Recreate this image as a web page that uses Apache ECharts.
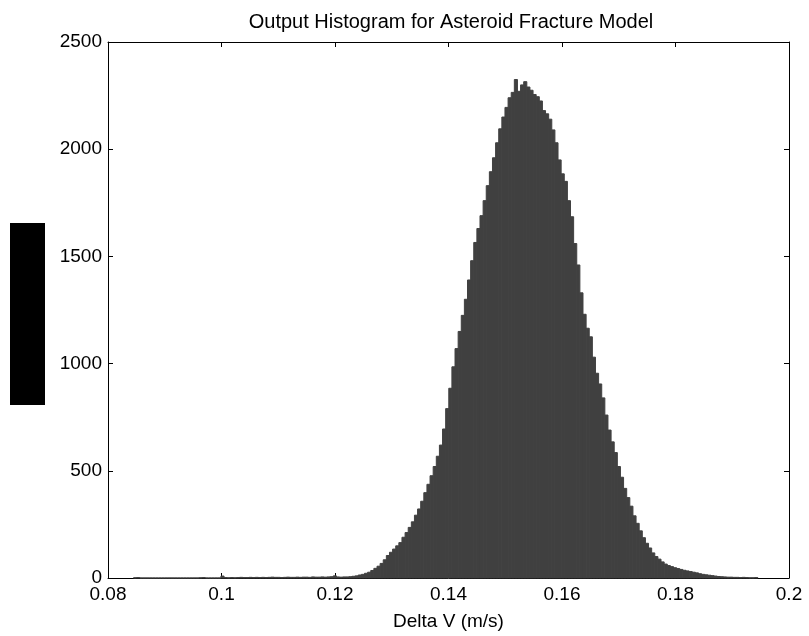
<!DOCTYPE html>
<html><head><meta charset="utf-8">
<script src="https://cdn.jsdelivr.net/npm/echarts@6/dist/echarts.min.js"></script>
<style>html,body{margin:0;padding:0;background:#fff}#c{width:809px;height:636px}</style>
</head><body><div id="c"></div>
<script>
// Histogram bins: bin i covers [binStart + i*binWidth, binStart + (i+1)*binWidth]
const binStart = 0.0845;
const binWidth = 0.00055;
const counts = [
  1,2,0,0,0,0,0,0,0,0,
  0,0,0,0,0,0,0,0,0,0,
  0,1,2,0,0,0,0,0,9,2,
  1,2,1,2,3,2,2,3,2,3,
  2,3,2,3,4,3,3,2,3,4,
  3,3,4,3,4,4,3,5,4,4,
  5,4,5,6,10,5,
  4,5,5,6,8,10,14,17,22,27,
  35,45,55,68,85,105,120,135,150,165,
  190,212,236,262,293,322,358,398,437,477,
  520,568,620,695,790,885,985,1070,1150,1225,
  1300,1390,1480,1565,1630,1690,1760,1830,1895,1960,
  2030,2095,2150,2195,2240,2265,2325,2270,2300,2315,
  2290,2275,2255,2245,2225,2180,2165,2140,2090,2030,
  1950,1885,1850,1760,1685,1560,1460,1330,1230,1165,
  1125,1030,955,905,840,760,690,635,585,520,
  470,418,375,335,290,255,220,188,162,140,
  117,100,88,75,65,58,53,48,44,40,
  36,33,30,27,24,20,17,15,13,11,
  9,7,6,5,4,4,3,3,2,3,
  2,1,1,2
];
const xTickLabels = ['0.08','0.1','0.12','0.14','0.16','0.18','0.2'];
const yTickLabels = ['0','500','1000','1500','2000','2500'];
const titleText = 'Output Histogram for Asteroid Fracture Model';
const xAxisName = 'Delta V (m/s)';

const data = counts.map((c, i) => [binStart + i * binWidth, binStart + (i + 1) * binWidth, c]);
const FONT = '"Liberation Sans", Arial, sans-serif';
const FS = 19;

const chart = echarts.init(document.getElementById('c'), null, {renderer: 'canvas'});
const axisLine = {show: true, onZero: false, lineStyle: {color: '#000', width: 1}};
const tick = {show: true, inside: true, length: 5, lineStyle: {color: '#000'}};
chart.setOption({
  animation: false,
  backgroundColor: '#fff',
  title: {
    text: titleText, left: 446, top: 7, textAlign: 'center',
    textStyle: {fontFamily: FONT, fontSize: 20, fontWeight: 'normal', color: '#000'}
  },
  grid: {left: 108, right: 20, top: 42, bottom: 58, containLabel: false},
  xAxis: [{
    type: 'value', min: 0.08, max: 0.2, interval: 0.02, position: 'bottom',
    axisLine, axisTick: tick, splitLine: {show: false},
    axisLabel: {margin: 7, fontFamily: FONT, fontSize: FS, color: '#000',
      formatter: v => { const s = xTickLabels.find(t => Math.abs(parseFloat(t) - v) < 1e-9); return s || ''; }},
    name: xAxisName, nameLocation: 'middle', nameGap: 34,
    nameTextStyle: {fontFamily: FONT, fontSize: FS, color: '#000'}
  }, {
    type: 'value', min: 0.08, max: 0.2, interval: 0.02, position: 'top',
    axisLine, axisTick: tick, axisLabel: {show: false}, splitLine: {show: false}
  }],
  yAxis: [{
    type: 'value', min: 0, max: 2500, interval: 500, position: 'left',
    axisLine, axisTick: tick, splitLine: {show: false},
    axisLabel: {margin: 6, fontFamily: FONT, fontSize: FS, color: '#000',
      formatter: v => yTickLabels.find(t => parseFloat(t) === v) || ''}
  }, {
    type: 'value', min: 0, max: 2500, interval: 500, position: 'right',
    axisLine, axisTick: tick, axisLabel: {show: false}, splitLine: {show: false}
  }],
  graphic: [{
    type: 'rect', left: 10, top: 223, shape: {width: 35, height: 182},
    style: {fill: '#000'}, z: 100
  }],
  series: [{
    type: 'custom',
    xAxisIndex: 0, yAxisIndex: 0,
    data: data,
    encode: {x: [0, 1], y: 2},
    renderItem: function (params, api) {
      const p0 = api.coord([api.value(0), 0]);
      const p1 = api.coord([api.value(1), api.value(2)]);
      return {
        type: 'rect',
        shape: {x: p0[0], y: p1[1], width: p1[0] - p0[0], height: p0[1] - p1[1]},
        style: {fill: '#404040', stroke: '#404040', lineWidth: 1}
      };
    }
  }]
});
</script>
</body></html>
